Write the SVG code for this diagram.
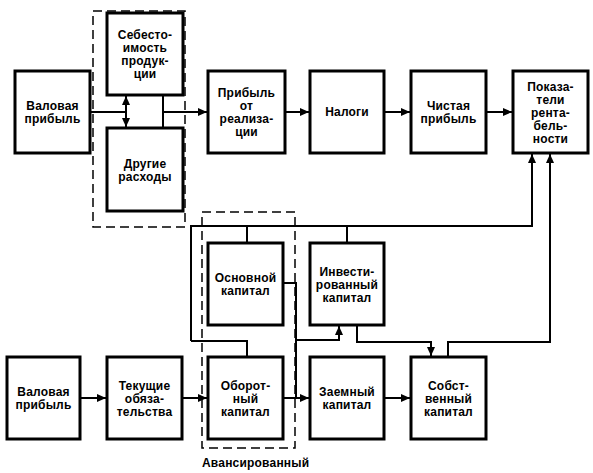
<svg xmlns="http://www.w3.org/2000/svg" width="593" height="473" viewBox="0 0 593 473">
<style>
.box{fill:#fff;stroke:#000;stroke-width:3}
.t{font-family:"Liberation Sans",Arial,sans-serif;font-size:12px;font-weight:bold;fill:#000;text-anchor:middle;letter-spacing:0.2px}
.c{fill:none;stroke:#000;stroke-width:2}
.d{fill:none;stroke:#000;stroke-width:1.5;stroke-dasharray:9,5}
</style>
<defs>
<marker id="a" markerUnits="userSpaceOnUse" markerWidth="10" markerHeight="8" refX="9" refY="4" orient="auto"><path d="M0,0 L9,4 L0,8 Z" fill="#000"/></marker>
<marker id="as" markerUnits="userSpaceOnUse" markerWidth="10" markerHeight="8" refX="1" refY="4" orient="auto"><path d="M10,0 L1,4 L10,8 Z" fill="#000"/></marker>
</defs>
<rect width="593" height="473" fill="#fff"/>
<g id="groups">
<rect class="d" x="93" y="11" width="92" height="216"/>
<rect class="d" x="202" y="212" width="93" height="236"/>
<text class="t" x="202" y="467" style="text-anchor:start">Авансированный</text>
</g>
<g id="connectors">
<path class="c" d="M90,112 H126"/>
<path class="c" d="M126,96 V127" marker-start="url(#as)" marker-end="url(#a)"/>
<path class="c" d="M163,95 V128"/>
<path class="c" d="M163,112 H207" marker-end="url(#a)"/>
<path class="c" d="M285,112 H309" marker-end="url(#a)"/>
<path class="c" d="M384,112 H410" marker-end="url(#a)"/>
<path class="c" d="M486,112 H512" marker-end="url(#a)"/>
<path class="c" d="M191,341 V226 H532 V154" marker-end="url(#a)"/>
<path class="c" d="M247,226 V243"/>
<path class="c" d="M347,226 V243"/>
<path class="c" d="M191,341 H247 V357"/>
<path class="c" d="M283,283 H296 V398"/>
<path class="c" d="M283,398 H309" marker-end="url(#a)"/>
<path class="c" d="M296,340 H339 V326" marker-end="url(#a)"/>
<path class="c" d="M357,325 V342 H431 V356" marker-end="url(#a)"/>
<path class="c" d="M448,357 V342 H550 V154" marker-end="url(#a)"/>
<path class="c" d="M80,398 H106" marker-end="url(#a)"/>
<path class="c" d="M182,398 H207" marker-end="url(#a)"/>
<path class="c" d="M384,398 H410" marker-end="url(#a)"/>
</g>
<g id="n1"><rect class="box" x="15" y="71" width="75" height="82"/><text class="t" x="52.5" y="110">Валовая</text><text class="t" x="52.5" y="123">прибыль</text></g>
<g id="n2"><rect class="box" x="107" y="13" width="76" height="82"/><text class="t" x="145" y="39">Себесто-</text><text class="t" x="145" y="52">имость</text><text class="t" x="145" y="65">продук-</text><text class="t" x="145" y="78">ции</text></g>
<g id="n3"><rect class="box" x="107" y="128" width="76" height="83"/><text class="t" x="145" y="167.5">Другие</text><text class="t" x="145" y="180.5">расходы</text></g>
<g id="n4"><rect class="box" x="208" y="71" width="77" height="82"/><text class="t" x="246.5" y="97">Прибыль</text><text class="t" x="246.5" y="110">от</text><text class="t" x="246.5" y="123">реализа-</text><text class="t" x="246.5" y="136">ции</text></g>
<g id="n5"><rect class="box" x="310" y="71" width="74" height="82"/><text class="t" x="347" y="116">Налоги</text></g>
<g id="n6"><rect class="box" x="411" y="71" width="75" height="82"/><text class="t" x="448.5" y="110">Чистая</text><text class="t" x="448.5" y="123">прибыль</text></g>
<g id="n7"><rect class="box" x="513" y="71" width="75" height="82"/><text class="t" x="550.5" y="90.5">Показа-</text><text class="t" x="550.5" y="103.5">тели</text><text class="t" x="550.5" y="116.5">рента-</text><text class="t" x="550.5" y="129.5">бель-</text><text class="t" x="550.5" y="142.5">ности</text></g>
<g id="n8"><rect class="box" x="208" y="243" width="75" height="82"/><text class="t" x="245.5" y="282">Основной</text><text class="t" x="245.5" y="295">капитал</text></g>
<g id="n9"><rect class="box" x="310" y="243" width="74" height="82"/><text class="t" x="347" y="275.5">Инвести-</text><text class="t" x="347" y="288.5">рованный</text><text class="t" x="347" y="301.5">капитал</text></g>
<g id="n10"><rect class="box" x="7" y="357" width="73" height="82"/><text class="t" x="43.5" y="396">Валовая</text><text class="t" x="43.5" y="409">прибыль</text></g>
<g id="n11"><rect class="box" x="107" y="357" width="75" height="82"/><text class="t" x="144.5" y="389.5">Текущие</text><text class="t" x="144.5" y="402.5">обяза-</text><text class="t" x="144.5" y="415.5">тельства</text></g>
<g id="n12"><rect class="box" x="208" y="357" width="75" height="82"/><text class="t" x="245.5" y="389.5">Оборот-</text><text class="t" x="245.5" y="402.5">ный</text><text class="t" x="245.5" y="415.5">капитал</text></g>
<g id="n13"><rect class="box" x="310" y="357" width="74" height="82"/><text class="t" x="347" y="396">Заемный</text><text class="t" x="347" y="409">капитал</text></g>
<g id="n14"><rect class="box" x="411" y="357" width="75" height="82"/><text class="t" x="448.5" y="389.5">Собст-</text><text class="t" x="448.5" y="402.5">венный</text><text class="t" x="448.5" y="415.5">капитал</text></g>
</svg>
